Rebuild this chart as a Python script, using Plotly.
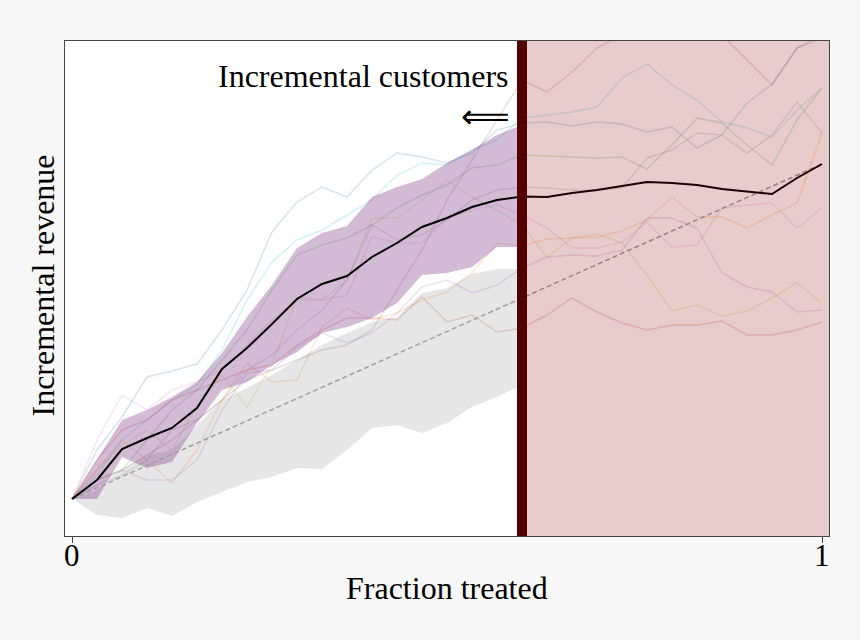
import plotly.graph_objects as go

# fraction treated, 31 steps from 0 to 1
fraction = [i / 30 for i in range(31)]
fraction_left = fraction[:19]  # 0 .. 0.6

# incremental revenue (arbitrary units)
model_mean = [0, 19, 50, 61, 71, 91, 130, 151, 175, 200, 215, 223, 242, 256, 272, 281,
              292, 299, 302.5, 302, 306, 309, 313, 317, 316, 314, 310, 307.5, 305, 321, 335]

model_upper = [0, 39, 79, 89, 102, 117, 146, 182, 214, 251, 266, 273, 302, 312, 320, 336, 349, 364, 374]
model_lower = [0, 0, 42, 31, 37, 76, 109, 117, 134, 147, 166, 172, 181, 196, 224, 226, 232, 252, 252]

random_upper = [0, 9, 29, 44, 49, 74, 99, 111, 124, 139, 154, 166, 177, 182, 206, 211, 225, 230, 230]
random_lower = [0, -16, -19, -9, -17, -3, 7, 17, 22, 31, 30, 49, 71, 74, 66, 76, 92, 102, 114]

random_x = [0, 1]
random_y = [0, 335]

x_ticks = [0, 1]
x_ticklabels = ["0", "1"]

# individual runs
runs = {
    "#1f77b4": [0, 49, 82, 122, 128, 135, 169, 209, 267, 297, 312, 302, 329, 346, 342, 336,
                346, 369, 376, 377, 373, 377, 375, 367, 372, 351, 364, 396, 415, 451, 464],
    "#17becf": [0, 24, 59, 79, 99, 114, 149, 199, 237, 259, 269, 284, 299, 324, 336, 334,
                349, 359, 381, 384, 387, 392, 421, 435, 414, 399, 377, 371, 362, 389, 411],
    "#2ca02c": [0, 19, 29, 59, 89, 109, 139, 169, 209, 244, 254, 261, 274, 291, 304, 314,
                331, 334, 344, 343, 342, 341, 342, 330, 354, 381, 376, 354, 334, 379, 411],
    "#8c564b": [0, 19, 29, 44, 59, 79, 99, 119, 129, 139, 149, 154, 169, 209, 249, 299,
                339, 379, 419, 407, 427, 451, 464, 474, 479, 474, 464, 439, 414, 451, 461],
    "#7f7f7f": [0, 14, 24, 39, 69, 79, 99, 129, 144, 169, 189, 219, 274, 259, 264, 279,
                299, 309, 312, 311, 309, 309, 311, 341, 349, 366, 364, 346, 364, 397, 366],
    "#ff7f0e": [0, 29, 59, 39, 16, 49, 99, 136, 117, 119, 172, 191, 179, 186, 199, 207,
                226, 256, 253, 260, 261, 262, 268, 279, 302, 282, 282, 271, 284, 296, 366],
    "#bcbd22": [0, 29, 54, 69, 49, 94, 124, 92, 134, 202, 199, 219, 281, 281, 299, 319,
                302, 289, 274, 242, 261, 265, 256, 224, 188, 194, 183, 188, 201, 216, 196],
    "#9467bd": [0, 14, 29, 19, 19, 39, 89, 126, 129, 152, 166, 156, 166, 186, 212, 219,
                206, 214, 231, 242, 244, 243, 249, 281, 281, 271, 226, 212, 207, 187, 189],
    "#e377c2": [0, 59, 104, 89, 109, 117, 129, 154, 179, 199, 199, 204, 262, 256, 256, 281,
                289, 294, 284, 271, 251, 251, 257, 277, 252, 254, 291, 294, 296, 271, 291],
    "#d62728": [0, 39, 69, 79, 99, 109, 119, 129, 134, 154, 169, 181, 181, 179, 202, 177,
                184, 167, 171, 184, 201, 187, 176, 169, 174, 174, 178, 164, 164, 169, 177],
}

cutoff = 0.6
serif = "Liberation Serif"

fig = go.Figure()

for color, vals in runs.items():
    fig.add_trace(go.Scatter(x=fraction, y=vals, mode="lines",
                             line=dict(color=color, width=1.5), opacity=0.18,
                             hoverinfo="skip"))

# random targeting band
fig.add_trace(go.Scatter(x=fraction_left, y=random_lower, mode="lines",
                         line=dict(width=0, color="rgba(0,0,0,0)")))
fig.add_trace(go.Scatter(x=fraction_left, y=random_upper, mode="lines", fill="tonexty",
                         fillcolor="rgba(128,128,128,0.2)",
                         line=dict(width=0, color="rgba(0,0,0,0)")))

# model band
fig.add_trace(go.Scatter(x=fraction_left, y=model_lower, mode="lines",
                         line=dict(width=0, color="rgba(0,0,0,0)")))
fig.add_trace(go.Scatter(x=fraction_left, y=model_upper, mode="lines", fill="tonexty",
                         fillcolor="rgba(120,50,130,0.33)",
                         line=dict(width=0, color="rgba(0,0,0,0)")))

fig.add_trace(go.Scatter(x=random_x, y=random_y, mode="lines",
                         line=dict(color="#a0a0a0", width=1.5, dash="5px,3px")))

fig.add_trace(go.Scatter(x=fraction, y=model_mean, mode="lines",
                         line=dict(color="black", width=2)))

# treated region and cutoff
fig.add_shape(type="rect", xref="x", yref="paper", x0=cutoff, x1=1.02, y0=0, y1=1,
              fillcolor="rgba(139,0,0,0.2)", line=dict(width=0), layer="above")
fig.add_shape(type="line", xref="x", yref="paper", x0=cutoff, x1=cutoff, y0=0, y1=1,
              line=dict(color="#520000", width=10), layer="above")

fig.add_annotation(text="Incremental customers", x=0.5813, y=423, xref="x", yref="y",
                   xanchor="right", yanchor="middle", xshift=3, showarrow=False,
                   font=dict(family=serif, size=32, color="black"))
fig.add_annotation(text="⟸", x=0.5813, y=383, xref="x", yref="y",
                   xanchor="right", yanchor="middle", xshift=4, showarrow=False,
                   font=dict(family="DejaVu Sans", size=34, color="black"))

# tick labels and axis titles placed by hand
for t, lab in zip(x_ticks, x_ticklabels):
    fig.add_annotation(text=lab, x=t, y=0, xref="x", yref="paper", yanchor="middle",
                       yshift=-19, showarrow=False,
                       font=dict(family=serif, size=31, color="black"))
fig.add_annotation(text="Fraction treated", x=0.5, y=0, xref="paper", yref="paper",
                   yanchor="middle", yshift=-52, showarrow=False,
                   font=dict(family=serif, size=32, color="black"))
fig.add_annotation(text="Incremental revenue", x=0, y=0.5, xref="paper", yref="paper",
                   xanchor="center", xshift=-23, yshift=3, textangle=-90, showarrow=False,
                   font=dict(family=serif, size=32, color="black"))

fig.update_layout(
    width=860, height=640,
    paper_bgcolor="#f7f7f7", plot_bgcolor="white",
    margin=dict(l=65, r=31, t=41, b=104),
    showlegend=False,
    font=dict(family=serif, size=32, color="black"),
    xaxis=dict(range=[-0.00933, 1.00933], tickvals=x_ticks, showticklabels=False,
               ticks="outside", ticklen=6, tickcolor="#444", showgrid=False,
               zeroline=False, showline=True, linecolor="#444", mirror=True),
    yaxis=dict(range=[-37, 458], showticklabels=False, ticks="", showgrid=False,
               zeroline=False, showline=True, linecolor="#444", mirror=True),
)

fig.write_html("out.html", config={"displayModeBar": False},
               post_script="document.body.style.margin='0';"
                           "document.body.style.background='#f7f7f7';")
